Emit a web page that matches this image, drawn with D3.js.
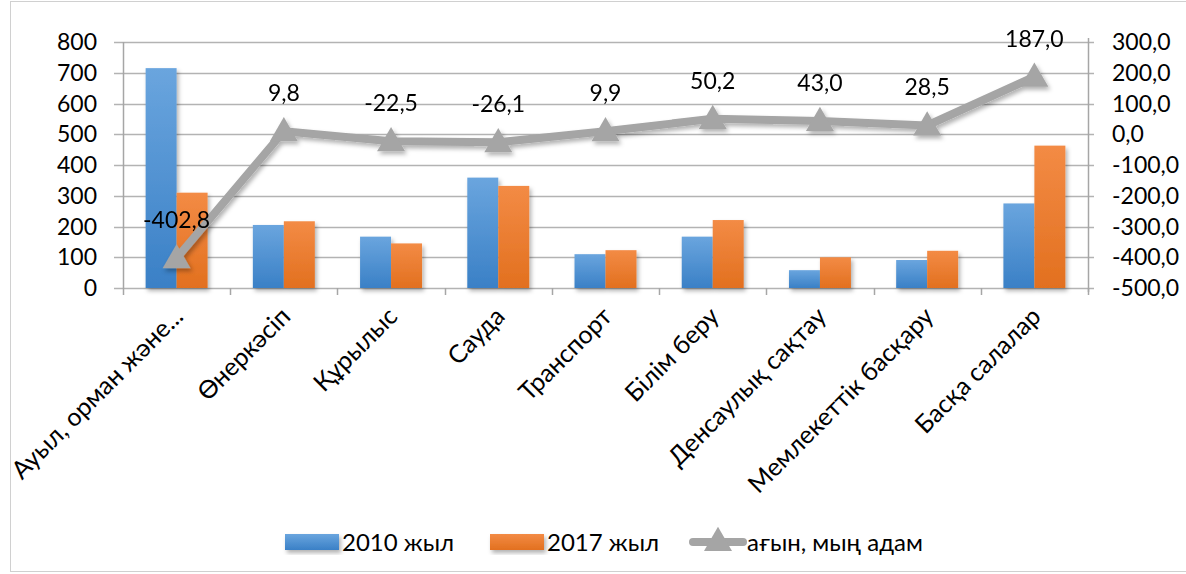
<!DOCTYPE html>
<html>
<head>
<meta charset="utf-8">
<script src="https://cdnjs.cloudflare.com/ajax/libs/d3/7.8.5/d3.min.js"></script>
<style>
  body { margin: 0; background: #fff; }
  text { font-family: Lato, "Open Sans", sans-serif; fill: #000; }
</style>
</head>
<body>
<div id="chart"></div>
<script>
// data
var categories = ["Ауыл, орман және...", "Өнеркәсіп", "Құрылыс", "Сауда", "Транспорт",
  "Білім беру", "Денсаулық сақтау", "Мемлекеттік басқару", "Басқа салалар"]
var values2010 = [715, 205, 167, 359, 110, 167, 58, 91, 275]
var values2017 = [310, 217, 145, 332, 123, 221, 100, 121, 463]
var flowValues = [-402.8, 9.8, -22.5, -26.1, 9.9, 50.2, 43.0, 28.5, 187.0]
var leftTicks = [0, 100, 200, 300, 400, 500, 600, 700, 800]
var rightTicks = [-500, -400, -300, -200, -100, 0, 100, 200, 300]
var seriesNames = ["2010 жыл", "2017 жыл", "ағын, мың адам"]

var width = 1186, height = 574
var plot = {left: 123, right: 1088, top: 42, bottom: 288}

var svg = d3.select("#chart")
  .append("svg")
    .attr("width", width)
    .attr("height", height)

// gradients + shadow
var defs = svg.append("defs")
function addGrad(id, c1, c2) {
  var g = defs.append("linearGradient").attr("id", id)
    .attr("x1", 0).attr("y1", 0).attr("x2", 0).attr("y2", 1)
  g.append("stop").attr("offset", "0%").attr("stop-color", c1)
  g.append("stop").attr("offset", "100%").attr("stop-color", c2)
}
addGrad("gBlue", "#6aa5de", "#3a80c6")
addGrad("gOrange", "#f38b45", "#e2701f")
var f = defs.append("filter").attr("id", "shadow")
  .attr("x", "-20%").attr("y", "-20%").attr("width", "150%").attr("height", "150%")
f.append("feDropShadow").attr("dx", 2).attr("dy", 3).attr("stdDeviation", 2)
  .attr("flood-color", "#000").attr("flood-opacity", 0.3)

// chart border
svg.append("rect")
  .attr("x", 10.5).attr("y", 1.5)
  .attr("width", width).attr("height", 570)
  .attr("fill", "none").attr("stroke", "#d0d0d0")

// scales
var x = d3.scaleBand()
  .domain(categories)
  .range([plot.left, plot.right])
  .padding(0)

var x1 = d3.scaleBand()
  .domain(["2010", "2017"])
  .range([0, x.bandwidth()])
  .paddingInner(0)
  .paddingOuter(0.73)

var yLeft = d3.scaleLinear()
  .domain([0, 800])
  .range([plot.bottom, plot.top])

var yRight = d3.scaleLinear()
  .domain([-500, 300])
  .range([plot.bottom, plot.top])

var fmt = function(d) { return d3.format(".1f")(d).replace(".", ",").replace("−", "-") }

// gridlines
svg.append("g")
  .selectAll("line")
  .data(leftTicks)
  .enter()
  .append("line")
    .attr("x1", plot.left - 9)
    .attr("x2", plot.right + 6)
    .attr("y1", function(d) { return Math.round(yLeft(d)) + 0.5 })
    .attr("y2", function(d) { return Math.round(yLeft(d)) + 0.5 })
    .attr("stroke", "#b3b3b3")
    .attr("stroke-width", 1.5)

// axis lines
svg.append("line")
  .attr("x1", plot.left + 0.5).attr("x2", plot.left + 0.5)
  .attr("y1", plot.top).attr("y2", plot.bottom + 7)
  .attr("stroke", "#a6a6a6").attr("stroke-width", 1.5)
svg.append("line")
  .attr("x1", plot.right + 0.5).attr("x2", plot.right + 0.5)
  .attr("y1", plot.top - 4).attr("y2", plot.bottom + 4)
  .attr("stroke", "#a6a6a6").attr("stroke-width", 1.5)

// x category ticks
svg.append("g")
  .selectAll("line")
  .data(categories)
  .enter()
  .append("line")
    .attr("x1", function(d) { return Math.round(x(d) + x.step()) + 0.5 })
    .attr("x2", function(d) { return Math.round(x(d) + x.step()) + 0.5 })
    .attr("y1", plot.bottom)
    .attr("y2", plot.bottom + 7)
    .attr("stroke", "#a6a6a6")
    .attr("stroke-width", 1.5)

// left axis labels
svg.append("g")
  .selectAll("text")
  .data(leftTicks)
  .enter()
  .append("text")
    .attr("x", 97)
    .attr("y", function(d) { return yLeft(d) + 8 })
    .attr("text-anchor", "end")
    .style("font-size", "23px")
    .text(function(d) { return d })

// right axis labels
svg.append("g")
  .selectAll("text")
  .data(rightTicks)
  .enter()
  .append("text")
    .attr("x", 1112)
    .attr("y", function(d) { return yRight(d) + 8 })
    .style("font-size", "23px")
    .text(fmt)

// category labels
svg.append("g")
  .selectAll("text")
  .data(categories)
  .enter()
  .append("text")
    .attr("transform", function(d) {
      return "translate(" + (x(d) + x.bandwidth() / 2 + 8) + "," + (plot.bottom + 30) + ")rotate(-45)"
    })
    .attr("text-anchor", "end")
    .style("font-size", "25px")
    .text(function(d) { return d })

// bars
var bars = svg.append("g").attr("filter", "url(#shadow)")
bars.selectAll("rect.b2010")
  .data(values2010)
  .enter()
  .append("rect")
    .attr("x", function(d, i) { return x(categories[i]) + x1("2010") })
    .attr("y", function(d) { return yLeft(d) })
    .attr("width", x1.bandwidth())
    .attr("height", function(d) { return yLeft(0) - yLeft(d) })
    .attr("fill", "url(#gBlue)")
bars.selectAll("rect.b2017")
  .data(values2017)
  .enter()
  .append("rect")
    .attr("x", function(d, i) { return x(categories[i]) + x1("2017") })
    .attr("y", function(d) { return yLeft(d) })
    .attr("width", x1.bandwidth())
    .attr("height", function(d) { return yLeft(0) - yLeft(d) })
    .attr("fill", "url(#gOrange)")

// flow line
var cx = function(d, i) { return x(categories[i]) + x.bandwidth() / 2 }
var lineG = svg.append("g").attr("filter", "url(#shadow)")
lineG.append("path")
  .datum(flowValues)
  .attr("d", d3.line().x(cx).y(function(d) { return yRight(d) }))
  .attr("fill", "none")
  .attr("stroke", "#a5a5a5")
  .attr("stroke-width", 8)
  .attr("stroke-linejoin", "round")

var tri = d3.symbol().type(d3.symbolTriangle).size(340)
lineG.selectAll("path.marker")
  .data(flowValues)
  .enter()
  .append("path")
    .attr("class", "marker")
    .attr("d", tri)
    .attr("transform", function(d, i) { return "translate(" + cx(d, i) + "," + (yRight(d) + 2) + ")" })
    .attr("fill", "#a5a5a5")

// data labels
svg.append("g")
  .selectAll("text")
  .data(flowValues)
  .enter()
  .append("text")
    .attr("x", cx)
    .attr("y", function(d) { return yRight(d) - 30 })
    .attr("text-anchor", "middle")
    .style("font-size", "23px")
    .text(fmt)

// legend
var legend = svg.append("g")
var legendItems = [
  {x: 285, fill: "url(#gBlue)", type: "rect"},
  {x: 490, fill: "url(#gOrange)", type: "rect"},
  {x: 690, fill: "#a5a5a5", type: "line"}
]
legendItems.forEach(function(it, i) {
  if (it.type == "rect") {
    legend.append("rect")
      .attr("x", it.x).attr("y", 534)
      .attr("width", 54).attr("height", 16)
      .attr("fill", it.fill)
      .attr("filter", "url(#shadow)")
  } else {
    legend.append("line")
      .attr("x1", it.x + 3).attr("x2", it.x + 53)
      .attr("y1", 542).attr("y2", 542)
      .attr("stroke", it.fill).attr("stroke-width", 8)
      .attr("stroke-linecap", "round")
    legend.append("path")
      .attr("d", tri)
      .attr("transform", "translate(" + (it.x + 28) + ",543)")
      .attr("fill", it.fill)
  }
  legend.append("text")
    .attr("x", it.x + 57)
    .attr("y", 551)
    .style("font-size", "24px")
    .text(seriesNames[i])
})
</script>
</body>
</html>
